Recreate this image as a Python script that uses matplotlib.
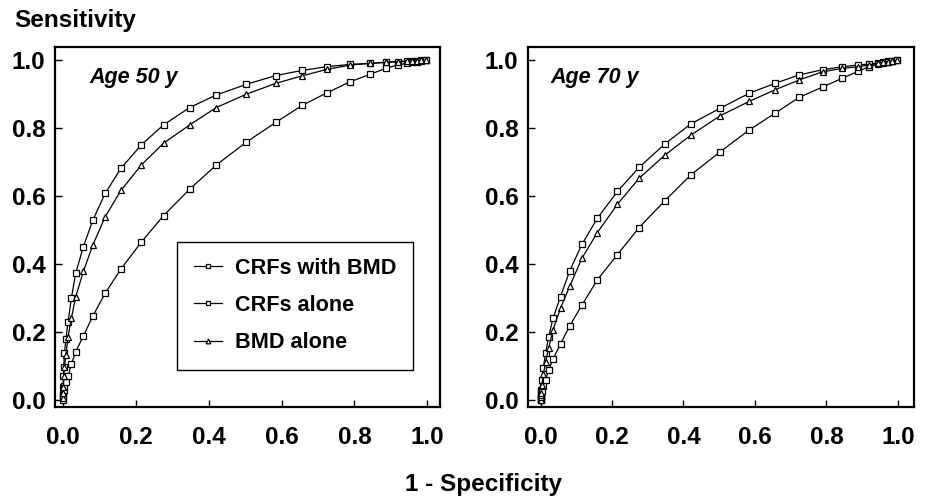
import matplotlib
matplotlib.use('Agg')
import matplotlib.pyplot as plt

# 1 - specificity grid shared by the curves
fpr = [0.0, 0.0005, 0.001, 0.002, 0.004, 0.008, 0.014, 0.023, 0.035, 0.056,
       0.082, 0.116, 0.159, 0.215, 0.276, 0.348, 0.421, 0.503, 0.584, 0.656,
       0.724, 0.789, 0.844, 0.888, 0.919, 0.944, 0.958, 0.971, 0.984, 0.997]

# Age 50 y
age50_crf_bmd = [0.01, 0.039, 0.069, 0.098, 0.137, 0.18, 0.23, 0.30, 0.373, 0.451,
                 0.529, 0.608, 0.681, 0.75, 0.809, 0.86, 0.897, 0.928, 0.954, 0.969,
                 0.98, 0.987, 0.99, 0.993, 0.995, 0.996, 0.997, 0.998, 0.999, 0.9995]
age50_crf = [0.0, 0.01, 0.02, 0.03, 0.04, 0.054, 0.07, 0.105, 0.142, 0.188,
             0.247, 0.314, 0.385, 0.464, 0.542, 0.620, 0.691, 0.758, 0.816, 0.866,
             0.903, 0.936, 0.958, 0.976, 0.985, 0.99, 0.993, 0.995, 0.997, 0.999]
age50_bmd = [0.005, 0.02, 0.039, 0.069, 0.098, 0.132, 0.186, 0.240, 0.304, 0.378,
             0.456, 0.539, 0.616, 0.691, 0.755, 0.809, 0.860, 0.899, 0.931, 0.953,
             0.972, 0.985, 0.99, 0.993, 0.995, 0.996, 0.997, 0.998, 0.999, 0.9995]

# Age 70 y
age70_crf_bmd = [0.0, 0.01, 0.02, 0.029, 0.059, 0.093, 0.137, 0.186, 0.240, 0.304,
                 0.380, 0.458, 0.534, 0.613, 0.684, 0.753, 0.812, 0.858, 0.902, 0.931,
                 0.956, 0.971, 0.980, 0.985, 0.988, 0.991, 0.994, 0.996, 0.998, 0.999]
age70_crf = [0.0, 0.004, 0.008, 0.012, 0.025, 0.04, 0.059, 0.088, 0.120, 0.165,
             0.218, 0.279, 0.353, 0.427, 0.507, 0.586, 0.662, 0.730, 0.794, 0.843,
             0.890, 0.920, 0.946, 0.966, 0.980, 0.988, 0.992, 0.995, 0.997, 0.999]
age70_bmd = [0.0, 0.007, 0.013, 0.02, 0.045, 0.075, 0.11, 0.152, 0.206, 0.270,
             0.335, 0.417, 0.492, 0.575, 0.652, 0.720, 0.779, 0.836, 0.878, 0.912,
             0.941, 0.965, 0.975, 0.980, 0.985, 0.99, 0.993, 0.995, 0.997, 0.999]

labels = ['CRFs with BMD', 'CRFs alone', 'BMD alone']
ticks = [0.0, 0.2, 0.4, 0.6, 0.8, 1.0]

plt.rcParams['font.family'] = ['Liberation Sans', 'DejaVu Sans']
plt.rcParams['font.weight'] = 'bold'

fig = plt.figure(figsize=(9.36, 5.0), dpi=100)
ax1 = fig.add_axes([55 / 936, 93 / 500, 385 / 936, 360 / 500])
ax2 = fig.add_axes([528 / 936, 93 / 500, 386 / 936, 360 / 500])

panels = [
    (ax1, 'Age 50 y', [age50_crf_bmd, age50_crf, age50_bmd], (-0.022, 1.035), 0.09),
    (ax2, 'Age 70 y', [age70_crf_bmd, age70_crf, age70_bmd], (-0.035, 1.045), 0.057),
]
markers = ['s', 's', '^']

for ax, title, series, xl, tx in panels:
    for ys, m, lab in zip(series, markers, labels):
        ax.plot(fpr, ys, color='black', lw=0.9, marker=m, ms=4.4 if m == 's' else 4.8,
                mfc='white', mec='black', mew=0.9, label=lab)
    ax.set_xlim(*xl)
    ax.set_ylim(-0.021, 1.038)
    ax.set_xticks(ticks)
    ax.set_yticks(ticks)
    ax.set_xticklabels(['%.1f' % t for t in ticks])
    ax.set_yticklabels(['%.1f' % t for t in ticks])
    ax.tick_params(direction='in', length=5, width=1.0, labelsize=17.5)
    ax.tick_params(axis='x', pad=14)
    ax.tick_params(axis='y', pad=7)
    for sp in ax.spines.values():
        sp.set_linewidth(1.6)
    ax.text(tx, 0.915, title, transform=ax.transAxes, fontsize=15.5,
            fontweight='bold', fontstyle='italic', va='center', ha='left')

leg = ax1.legend(loc='lower left', bbox_to_anchor=(0.29, 0.074), fontsize=15.6,
                 frameon=True, fancybox=False, edgecolor='black', framealpha=1,
                 handlelength=1.3, handletextpad=0.6, labelspacing=0.75,
                 borderpad=0.75, markerscale=0.7)
leg.get_frame().set_linewidth(1.0)

fig.text(75 / 936, 1 - 21 / 500, 'Sensitivity', fontsize=17.5, fontweight='bold',
         ha='center', va='center')
fig.text(483 / 936, 1 - 484 / 500, '1 - Specificity', fontsize=17.5, fontweight='bold',
         ha='center', va='center')

fig.savefig('out.png', dpi=100)
